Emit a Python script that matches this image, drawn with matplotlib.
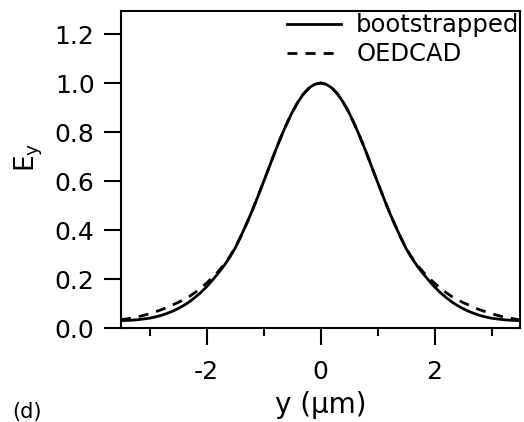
import numpy as np
import matplotlib
matplotlib.use("Agg")
import matplotlib.pyplot as plt

plt.rcParams['axes.unicode_minus'] = False
plt.rcParams['font.family'] = ['DejaVu Sans']

# position (um)
y_pos = [round(-3.5 + 0.1 * i, 1) for i in range(71)]

# half profiles from |y| = 0.0 to 3.5 step 0.1
boot_half = [1.000, 0.995, 0.980, 0.955, 0.921, 0.879, 0.830, 0.776, 0.718, 0.657,
             0.596, 0.536, 0.478, 0.424, 0.373, 0.325, 0.286, 0.252, 0.222, 0.194,
             0.168, 0.145, 0.125, 0.107, 0.092, 0.079, 0.068, 0.059, 0.051, 0.045,
             0.040, 0.037, 0.034, 0.032, 0.031, 0.030]
oed_half = [1.000, 0.995, 0.980, 0.955, 0.921, 0.879, 0.830, 0.776, 0.718, 0.657,
            0.596, 0.536, 0.478, 0.424, 0.373, 0.326, 0.289, 0.257, 0.229, 0.205,
            0.183, 0.163, 0.145, 0.129, 0.116, 0.104, 0.094, 0.083, 0.074, 0.066,
            0.058, 0.052, 0.046, 0.041, 0.037, 0.034]

bootstrapped = boot_half[::-1] + boot_half[1:]
oedcad = oed_half[::-1] + oed_half[1:]

series_labels = ['bootstrapped', 'OEDCAD']
x_major = [-2, 0, 2]
x_minor = [-3, -1, 1, 3]
y_major = [0.0, 0.2, 0.4, 0.6, 0.8, 1.0, 1.2]

fig = plt.figure(figsize=(5.24, 4.22), dpi=100)
ax = fig.add_axes([121/524, 1 - 328/422, (520-121)/524, (328-11)/422])

ax.plot(y_pos, oedcad, color='black', lw=2.0, linestyle=(0, (3.6, 2.9)), label=series_labels[1], zorder=2)
ax.plot(y_pos, bootstrapped, color='black', lw=2.0, label=series_labels[0], zorder=3)

ax.set_xlim(-3.5, 3.5)
ax.set_ylim(0, 1.294)
ax.set_xticks(x_major)
ax.set_xticks(x_minor, minor=True)
ax.set_xticklabels([str(v) for v in x_major])
ax.set_yticks(y_major)
ax.set_yticklabels([f"{v:.1f}" for v in y_major])

for s in ax.spines.values():
    s.set_linewidth(1.5)
ax.tick_params(axis='x', which='major', direction='out', length=12, width=1.5, pad=11, labelsize=18)
ax.tick_params(axis='x', which='minor', direction='out', length=6, width=1.5)
ax.tick_params(axis='y', which='major', direction='out', length=12, width=1.5, pad=7, labelsize=18)

ax.set_xlabel('y (\u03bcm)', fontsize=20)
ax.xaxis.set_label_coords(0.5, -0.2)
ax.set_ylabel(r'$\mathregular{E_y}$', fontsize=19)
ax.yaxis.set_label_coords(-0.19, 0.54)

h, l = ax.get_legend_handles_labels()
ax.legend(h[::-1], l[::-1], loc='upper right', bbox_to_anchor=(1.005, 1.0), frameon=False,
          fontsize=17.5, handlelength=2.22, handletextpad=0.62, labelspacing=0.2,
          borderaxespad=0.0, borderpad=0.1)

fig.text(12/524, 1 - 402/422, '(d)', fontsize=15, va='top', ha='left')

fig.savefig('out.png', dpi=100)
